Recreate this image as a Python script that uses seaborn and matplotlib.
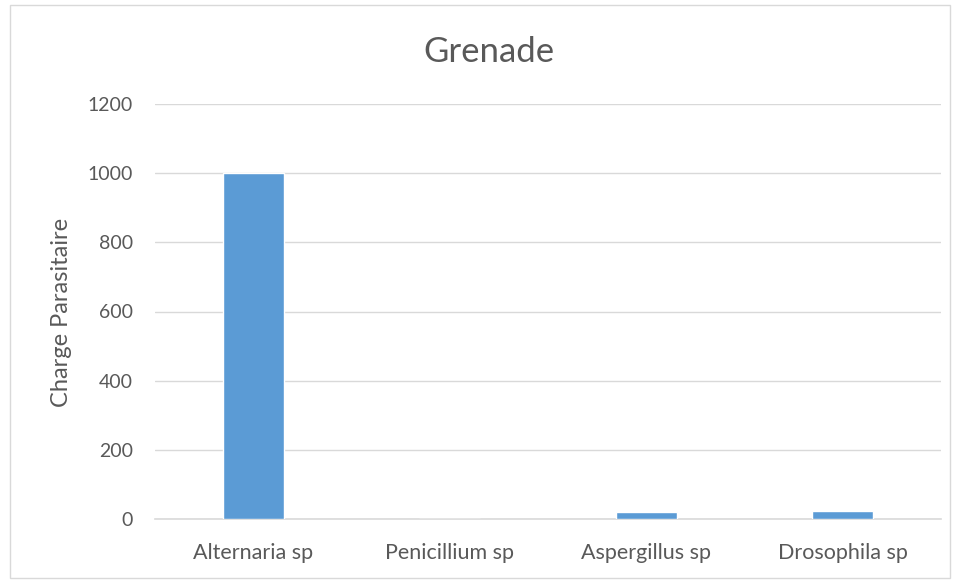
import numpy as np
import pandas as pd
import matplotlib
matplotlib.use("Agg")
import matplotlib.pyplot as plt
import seaborn as sns

# valeurs
especes = ["Alternaria sp", "Penicillium sp", "Aspergillus sp", "Drosophila sp"]
charge = [1000, 0, 20, 22]
yticks = [0, 200, 400, 600, 800, 1000, 1200]

sns.set_style("white")
plt.rcParams['font.family'] = ['Lato', 'DejaVu Sans']
gris = "#595959"

df = pd.DataFrame({"espece": especes, "charge": charge})

fig = plt.figure(figsize=(9.6, 5.81), dpi=100)
ax = fig.add_axes([155/960, 1 - 519/581, (941-155)/960, (519-104)/581])

sns.barplot(data=df, x="espece", y="charge", color="#5B9BD5", saturation=1,
            width=0.31, ax=ax, zorder=3)

ax.set_ylim(0, 1200)
ax.set_yticks(yticks)
ax.set_xlim(-0.5, 3.5)
ax.grid(axis="y", color="#D9D9D9", linewidth=1, zorder=0)
for s in ["top", "right", "left"]:
    ax.spines[s].set_visible(False)
ax.spines["bottom"].set_color("#D9D9D9")
ax.spines["bottom"].set_linewidth(1.2)
ax.tick_params(axis="y", length=0, labelsize=14, colors=gris, pad=16)
ax.tick_params(axis="x", length=0, labelsize=15.5, colors=gris, pad=17)
ax.set_xlabel("")
ax.set_ylabel("")
fig.text(62/960, 1 - 312/581, "Charge Parasitaire", rotation=90, ha="center",
         va="center", fontsize=17, color=gris)
fig.text(489/960, 1 - 62/581, "Grenade", ha="center", va="baseline", fontsize=25, color=gris)

# cadre extérieur
fig.patches.append(plt.Rectangle((10/960, 1 - 578/581), 940/960, 573/581,
                                 transform=fig.transFigure, fill=False,
                                 edgecolor="#D9D9D9", linewidth=1))

fig.savefig("out.png", dpi=100)
